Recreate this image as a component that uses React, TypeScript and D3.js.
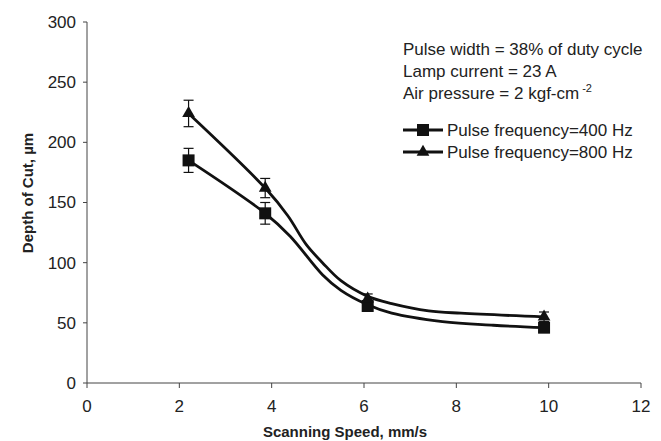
import * as React from 'react';
import * as d3 from 'd3';

const speeds = [2.2, 3.86, 6.08, 9.9];
const depth400 = [185, 141, 64, 46];
const depth800 = [224, 162, 70, 55];
const err400 = [10, 9, 4, 4];
const err800 = [11, 8, 4, 4];

// smoothed trend lines as drawn in the figure
const line400X = [2.2, 3.86, 4.4, 5.1, 5.5, 6.08, 6.6, 7.7, 8.8, 9.9];
const line400Y = [185, 141, 122, 90, 77, 65, 58, 51, 48, 46];
const line800X = [2.2, 3.86, 4.35, 4.75, 5.1, 5.5, 6.08, 6.6, 7.4, 8.1, 9.9];
const line800Y = [224, 162, 139, 115, 100, 85, 72, 66, 60, 58, 55];

const xTicks = [0, 2, 4, 6, 8, 10, 12];
const yTicks = [0, 50, 100, 150, 200, 250, 300];
const notes = ['Pulse width = 38% of duty cycle', 'Lamp current = 23 A'];
const seriesNames = ['Pulse frequency=400 Hz', 'Pulse frequency=800 Hz'];

const W = 661;
const H = 441;
const font = 'Liberation Sans, Arial, sans-serif';

const App: React.FC = () => {
  const x = d3.scaleLinear().domain([0, 12]).range([87, 641]);
  const y = d3.scaleLinear().domain([0, 300]).range([383, 22]);
  const line = d3
    .line<[number, number]>()
    .x((d) => x(d[0]))
    .y((d) => y(d[1]))
    .curve(d3.curveCatmullRom.alpha(0.5));
  const pts400 = line400X.map((v, i) => [v, line400Y[i]] as [number, number]);
  const pts800 = line800X.map((v, i) => [v, line800Y[i]] as [number, number]);
  const tri = d3.symbol(d3.symbolTriangle, 70)();
  const sq = 12;

  const errBars = (vals: number[], errs: number[]) =>
    speeds.map((s, i) => (
      <g key={i} stroke="#111" strokeWidth={1.2}>
        <line x1={x(s)} x2={x(s)} y1={y(vals[i] + errs[i])} y2={y(vals[i] - errs[i])} />
        <line x1={x(s) - 5} x2={x(s) + 5} y1={y(vals[i] + errs[i])} y2={y(vals[i] + errs[i])} />
        <line x1={x(s) - 5} x2={x(s) + 5} y1={y(vals[i] - errs[i])} y2={y(vals[i] - errs[i])} />
      </g>
    ));

  return (
    <svg width={W} height={H} style={{ position: 'absolute', left: 0, top: 0, background: '#fff' }} fontFamily={font}>
      {/* axes */}
      <g stroke="#444" strokeWidth={1}>
        <line x1={x(0)} x2={x(0)} y1={y(300)} y2={y(0)} />
        <line x1={x(0)} x2={x(12)} y1={y(0)} y2={y(0)} />
        {yTicks.map((t) => (
          <line key={t} x1={x(0) - 4} x2={x(0)} y1={y(t)} y2={y(t)} />
        ))}
        {xTicks.map((t) => (
          <line key={t} x1={x(t)} x2={x(t)} y1={y(0)} y2={y(0) + 5} />
        ))}
      </g>
      <g fontSize={17} fill="#222">
        {yTicks.map((t) => (
          <text key={t} x={x(0) - 11} y={y(t)} dy="0.35em" textAnchor="end">
            {t}
          </text>
        ))}
        {xTicks.map((t) => (
          <text key={t} x={x(t)} y={y(0) + 29} textAnchor="middle">
            {t}
          </text>
        ))}
      </g>
      <text x={345} y={437} textAnchor="middle" fontSize={15} fontWeight="bold" fill="#222">
        Scanning Speed, mm/s
      </text>
      <text
        transform={`translate(33,${193}) rotate(-90)`}
        textAnchor="middle"
        fontSize={15}
        fontWeight="bold"
        fill="#222"
      >
        Depth of Cut, µm
      </text>

      {/* series */}
      <path d={line(pts400) || ''} fill="none" stroke="#111" strokeWidth={2.8} />
      <path d={line(pts800) || ''} fill="none" stroke="#111" strokeWidth={2.8} />
      {errBars(depth400, err400)}
      {errBars(depth800, err800)}
      {speeds.map((s, i) => (
        <rect key={i} x={x(s) - sq / 2} y={y(depth400[i]) - sq / 2} width={sq} height={sq} fill="#111" />
      ))}
      {speeds.map((s, i) => (
        <path key={i} d={tri || ''} transform={`translate(${x(s)},${y(depth800[i])})`} fill="#111" />
      ))}

      {/* notes and legend */}
      <g fontSize={17} fill="#222">
        {notes.map((n, i) => (
          <text key={n} x={403} y={55 + i * 22}>
            {n}
          </text>
        ))}
        <text x={403} y={99}>
          Air pressure = 2 kgf-cm
          <tspan dx={3} dy={-7} fontSize={11}>
            -2
          </tspan>
        </text>
        {seriesNames.map((n, i) => {
          const cy = 130 + i * 22;
          return (
            <g key={n}>
              <line x1={403} x2={443} y1={cy} y2={cy} stroke="#111" strokeWidth={2.8} />
              {i === 0 ? (
                <rect x={423 - sq / 2} y={cy - sq / 2} width={sq} height={sq} fill="#111" />
              ) : (
                <path d={tri || ''} transform={`translate(423,${cy})`} fill="#111" />
              )}
              <text x={447} y={cy} dy="0.35em">
                {n}
              </text>
            </g>
          );
        })}
      </g>
    </svg>
  );
};

export default App;
